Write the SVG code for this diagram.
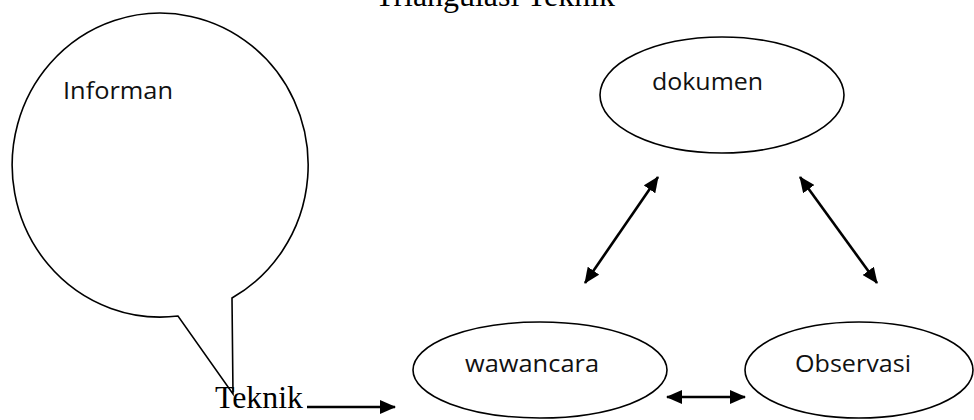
<svg xmlns="http://www.w3.org/2000/svg" width="974" height="420" viewBox="0 0 974 420">
  <style>
    .shape { fill: #ffffff; stroke: #000000; stroke-width: 1.6; }
    .lbl { font-family: "Open Sans", "Liberation Sans", sans-serif; font-size: 24px; fill: #111111; }
    .serif { font-family: "Liberation Serif", "Times New Roman", serif; font-size: 31px; fill: #000000; }
    .conn { stroke: #000000; stroke-width: 2.6; fill: none; }
  </style>
  <defs>
    <marker id="ah" viewBox="0 0 16 14" refX="15" refY="7" markerWidth="16" markerHeight="14" markerUnits="userSpaceOnUse" orient="auto-start-reverse">
      <path d="M0,0 L16,7 L0,14 Z" fill="#000000"/>
    </marker>
  </defs>
  <rect width="974" height="420" fill="#ffffff"/>

  <text x="375" y="6" class="serif" textLength="240" lengthAdjust="spacingAndGlyphs">Triangulasi Teknik</text>

  <g id="informan">
    <path class="shape" d="M178,316 A148,152 0 1 1 232,298 L233,394 Z"/>
    <text x="63" y="99" class="lbl" textLength="110" lengthAdjust="spacingAndGlyphs">Informan</text>
  </g>

  <g id="teknik">
    <text x="215" y="408" class="serif" textLength="88" lengthAdjust="spacingAndGlyphs">Teknik</text>
  </g>

  <g id="dokumen">
    <ellipse class="shape" cx="722" cy="95" rx="122" ry="58"/>
    <text x="652" y="90" class="lbl" textLength="111" lengthAdjust="spacingAndGlyphs">dokumen</text>
  </g>

  <g id="wawancara">
    <ellipse class="shape" cx="540" cy="370" rx="127" ry="48"/>
    <text x="465" y="372" class="lbl" textLength="134" lengthAdjust="spacingAndGlyphs">wawancara</text>
  </g>

  <g id="observasi">
    <ellipse class="shape" cx="859" cy="370" rx="114" ry="48"/>
    <text x="795" y="372" class="lbl" textLength="116" lengthAdjust="spacingAndGlyphs">Observasi</text>
  </g>

  <g id="connectors">
    <line class="conn" x1="307" y1="407" x2="395" y2="407" marker-end="url(#ah)"/>
    <line class="conn" x1="585" y1="283" x2="658" y2="177" marker-start="url(#ah)" marker-end="url(#ah)"/>
    <line class="conn" x1="800" y1="177" x2="877" y2="283" marker-start="url(#ah)" marker-end="url(#ah)"/>
    <line class="conn" x1="667" y1="397" x2="745" y2="397" marker-start="url(#ah)" marker-end="url(#ah)"/>
  </g>
</svg>
